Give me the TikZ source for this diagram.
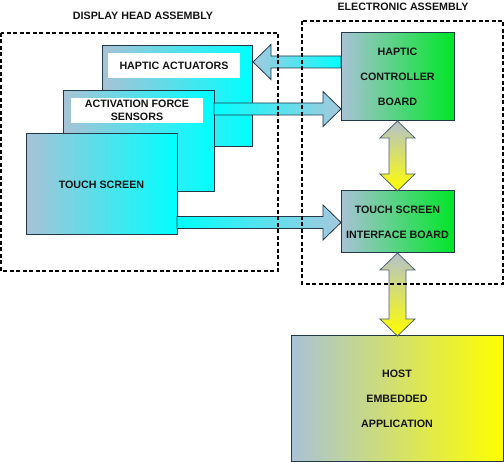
\documentclass[tikz,border=0pt]{standalone}
\usepackage{fontspec}
\setmainfont{Liberation Sans}
\usetikzlibrary{calc}
\definecolor{edge}{HTML}{22394A}
\definecolor{steel}{HTML}{A8C2D6}
\definecolor{aqua}{HTML}{00FFFF}
\definecolor{lime}{HTML}{00E628}
\definecolor{yel}{HTML}{FFFF00}
\definecolor{ink}{HTML}{141414}
\definecolor{arrowblue}{HTML}{A6C8DE}
\definecolor{vtop}{HTML}{B4C2CC}
\newcommand\harrow[3][]{%
  \path[harr,#1] let \p1=(#2), \p2=(#3), \n1={sign(\x2-\x1)*18} in
    (\x1,{\y1+6pt}) -- ({\x2-\n1*1pt},{\y2+6pt}) -- ({\x2-\n1*1pt},{\y2+17.5pt})
    -- (\x2,\y2) -- ({\x2-\n1*1pt},{\y2-17.5pt}) -- ({\x2-\n1*1pt},{\y2-6pt})
    -- (\x1,{\y1-6pt}) -- cycle;}
\newcommand\varrow[2]{%
  \path[varr] let \p1=(#1), \p2=(#2) in
    (\x1,\y1) -- ({\x1+17.5pt},{\y1-17pt}) -- ({\x1+8.5pt},{\y1-17pt})
    -- ({\x1+8.5pt},{\y2+17pt}) -- ({\x1+17.5pt},{\y2+17pt}) -- (\x1,\y2)
    -- ({\x1-17.5pt},{\y2+17pt}) -- ({\x1-8.5pt},{\y2+17pt})
    -- ({\x1-8.5pt},{\y1-17pt}) -- ({\x1-17.5pt},{\y1-17pt}) -- cycle;}
\tikzset{
  txt/.style={font=\bfseries\fontsize{10.7}{25}\selectfont, text=ink, align=center},
  blk/.style={draw=edge, line width=1pt, anchor=north west, inner sep=0pt, outer sep=0pt, txt},
  cyanbox/.style={blk, left color=steel, right color=aqua},
  greenbox/.style={blk, left color=steel, right color=lime},
  yellowbox/.style={blk, left color=steel, right color=yel},
  whitelabel/.style={fill=white, anchor=north west, inner sep=0pt, outer sep=0pt, txt,
    font=\bfseries\fontsize{10.7}{12.5}\selectfont},
  harr/.style={draw=edge, line width=0.8pt},
  harrR/.style={left color=aqua, right color=arrowblue},
  harrL/.style={left color=arrowblue, right color=aqua},
  varr/.style={draw=edge!80, line width=0.8pt, top color=vtop, bottom color=yel},
  assembly/.style={draw=black, line width=1.1pt, dash pattern=on 4pt off 2.5pt},
  title/.style={txt}
}
\begin{document}
\begin{tikzpicture}[x=1pt,y=-1pt]
\useasboundingbox (0,0) rectangle (504,462);
% display head boxes
\node[cyanbox, minimum width=150, minimum height=101] (ha) at (102,46) {};
\node[whitelabel, minimum width=132, minimum height=25] (hal) at (108,53) {HAPTIC ACTUATORS};
\node[cyanbox, minimum width=151, minimum height=101] (fs) at (63,91) {};
\node[whitelabel, minimum width=132, minimum height=25] (fsl) at (71,98) {ACTIVATION FORCE\\SENSORS};
\node[cyanbox, minimum width=151, minimum height=101] (ts) at (26,134) {TOUCH SCREEN};
% electronic boxes
\node[greenbox, minimum width=113, minimum height=88] (hcb) at (341,33) {HAPTIC\\CONTROLLER\\BOARD};
\node[greenbox, minimum width=113, minimum height=62] (tsib) at (341,191) {TOUCH SCREEN\\INTERFACE BOARD};
\node[yellowbox, minimum width=212, minimum height=126] (host) at (291,336) {HOST\\EMBEDDED\\APPLICATION};
% horizontal arrows
\coordinate (a1s) at ($(hcb.north west)+(0,29)$);
\coordinate (a1e) at ($(ha.north east)+(1,16)$);
\harrow[harrL]{a1s}{a1e}
\coordinate (a2s) at ($(fs.north east)+(0,18)$);
\harrow[harrR]{a2s}{hcb.west |- a2s}
\coordinate (a3s) at ($(ts.north east)+(0,88.5)$);
\harrow[harrR]{a3s}{tsib.west |- a3s}
% vertical arrows
\varrow{hcb.south}{tsib.north}
\varrow{tsib.south}{tsib.south |- host.north}
% assemblies
\draw[assembly] (1,33) rectangle (278,271);
\draw[assembly] (302,21) rectangle (503,284);
\node[title] (dha) at (143,16) {DISPLAY HEAD ASSEMBLY};
\node[title] (ea) at (403,7) {ELECTRONIC ASSEMBLY};
\end{tikzpicture}
\end{document}
